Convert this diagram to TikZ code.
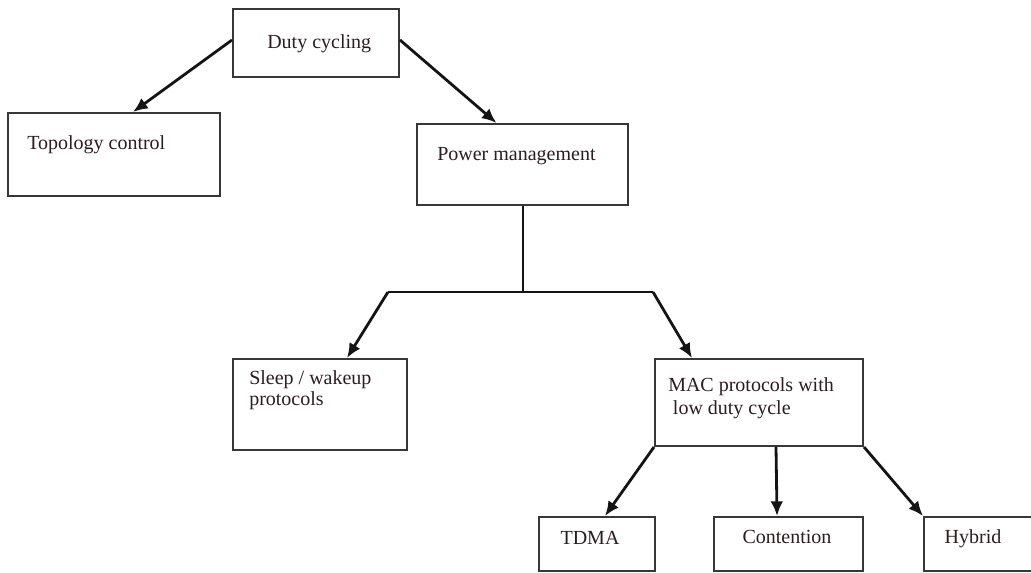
\documentclass[tikz,border=0pt]{standalone}
\usepackage{fontspec}
\setmainfont{Liberation Serif}
\usetikzlibrary{fit,arrows.meta}
\definecolor{txtcol}{RGB}{45,28,32}
\definecolor{boxcol}{RGB}{55,55,55}
\definecolor{arrcol}{RGB}{20,20,20}
\begin{document}
\begin{tikzpicture}[x=0.75pt,y=-0.75pt,
  box/.style={draw=boxcol,line width=1.5pt,inner sep=0pt,fill=none},
  lbl/.style={inner sep=0pt,text=txtcol,font=\fontsize{15pt}{15pt}\selectfont},
  arr/.style={draw=arrcol,line width=2.1pt,-{Latex[length=11pt,width=9.5pt]}},
  ln/.style={draw=arrcol,line width=1.5pt}]
\useasboundingbox (0,0) rectangle (1031,572);
\clip (0,0) rectangle (1031,572);
\fill[white] (0,0) rectangle (1031,572);
% boxes
\node[box,fit={(233,9) (399,77)}] (duty) {};
\node[box,fit={(8,113) (220,196)}] (topo) {};
\node[box,fit={(417,124) (628,205)}] (power) {};
\node[box,fit={(233,359) (407,450)}] (sleep) {};
\node[box,fit={(655,359) (863,446)}] (mac) {};
\node[box,fit={(539,517) (655,571)}] (tdma) {};
\node[box,fit={(714,517) (863,571)}] (cont) {};
\node[box,fit={(924,517) (1045,571)}] (hyb) {};
% labels
\node[lbl,anchor=base west] (duty-t) at (267,48) {Duty cycling};
\node[lbl,anchor=base west] (topo-t) at (27,149) {Topology control};
\node[lbl,anchor=base west] (power-t) at (437,160) {Power management};
\node[lbl,anchor=base west,align=left,font=\fontsize{15pt}{15.5pt}\selectfont] (sleep-t) at (249,405) {Sleep / wakeup\\protocols};
\node[lbl,anchor=base west,align=left,font=\fontsize{15pt}{17pt}\selectfont] (mac-t) at (668,414) {MAC protocols with\\\hspace{3.5pt}low duty cycle};
\node[lbl,anchor=base] (tdma-t) at (590,544) {TDMA};
\node[lbl,anchor=base] (cont-t) at (787,543) {Contention};
\node[lbl,anchor=base] (hyb-t) at (973,543) {Hybrid};
% connectors
\coordinate (hm) at (power.south |- 0,292);
\coordinate (hl) at (388,292);
\coordinate (hr) at (653,292);
\draw[arr] ([yshift=2.25pt]duty.west) -- ([xshift=14.25pt]topo.north);
\draw[arr] ([yshift=2.25pt]duty.east) -- ([xshift=-19.5pt]power.north);
\draw[ln] (power.south) -- (hm);
\draw[ln] (hl) -- (hr);
\draw[arr] (hl) -- ([xshift=86.25pt]sleep.north west);
\draw[arr] (hr) -- ([xshift=28.5pt]mac.north west);
\draw[arr] (mac.south west) -- ([xshift=6pt]tdma.north);
\draw[arr] ([xshift=12.75pt]mac.south) -- ([xshift=-8.6pt]cont.north);
\draw[arr] (mac.south east) -- (hyb.north west);
\end{tikzpicture}
\end{document}
